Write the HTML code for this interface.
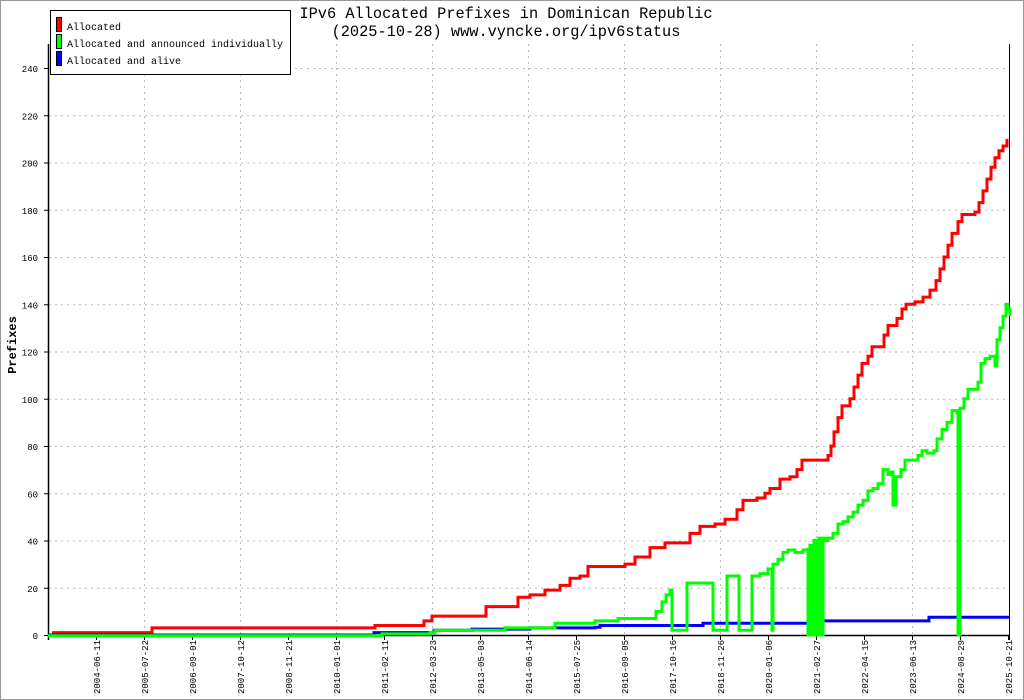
<!DOCTYPE html>
<html><head><meta charset="utf-8"><style>
html,body{margin:0;padding:0;background:#fff}
svg{display:block}
text{font-family:"Liberation Mono","DejaVu Sans Mono",monospace;fill:#000}
</style></head><body>
<svg id="s" width="1024" height="700" viewBox="0 0 1024 700" xmlns="http://www.w3.org/2000/svg">
<rect x="0.5" y="0.5" width="1023" height="699" fill="#fff" stroke="#999"/>
<g id="grid" stroke="#bbb" stroke-dasharray="2,4" stroke-width="1"></g>
<g id="axes"></g>
<g id="series" fill="none" stroke-width="3" stroke-linejoin="miter"></g>
<text x="506" y="18" font-size="15.3" text-anchor="middle">IPv6 Allocated Prefixes in Dominican Republic</text>
<text x="506" y="36" font-size="15.3" text-anchor="middle">(2025-10-28) www.vyncke.org/ipv6status</text>
<text transform="translate(16,345) rotate(-90)" font-size="12" font-weight="bold" text-anchor="middle">Prefixes</text>
<rect x="50.5" y="10.5" width="240" height="64" fill="#fff" stroke="#000"/>
<rect x="56.5" y="17.5" width="5" height="14" fill="#f00" stroke="#000"/>
<rect x="56.5" y="34.5" width="5" height="14" fill="#0f0" stroke="#000"/>
<rect x="56.5" y="51.5" width="5" height="14" fill="#00f" stroke="#000"/>
<text x="67" y="30" font-size="10">Allocated</text>
<text x="67" y="47" font-size="10">Allocated and announced individually</text>
<text x="67" y="64" font-size="10">Allocated and alive</text>
</svg>
<script>
var NS="http://www.w3.org/2000/svg";
function el(p,t,a,txt){var e=document.createElementNS(NS,t);for(var k in a)e.setAttribute(k,a[k]);if(txt!==undefined)e.textContent=txt;document.getElementById(p).appendChild(e);return e;}
function Y(v){return 635-v*2.3625;}
for(var v=20;v<=240;v+=20){el("grid","line",{x1:49,x2:1008,y1:Y(v)+.5,y2:Y(v)+.5});}
for(var v=0;v<=240;v+=20){el("axes","line",{x1:44,x2:48,y1:Y(v)+.5,y2:Y(v)+.5,stroke:"#000"});el("axes","text",{x:38,y:Y(v)+4,"font-size":"9","text-anchor":"end"},String(v));}
for(var x=144;x<=912;x+=96){el("grid","line",{x1:x+.5,x2:x+.5,y1:44,y2:634});}
var labs=["2004-06-11","2005-07-22","2006-09-01","2007-10-12","2008-11-21","2010-01-01","2011-02-11","2012-03-23","2013-05-03","2014-06-14","2015-07-25","2016-09-05","2017-10-16","2018-11-26","2020-01-06","2021-02-27","2022-04-15","2023-06-13","2024-08-29","2025-10-21"];
for(var i=0;i<labs.length;i++){var x=96+48*i;el("axes","line",{x1:x+.5,x2:x+.5,y1:635,y2:640,stroke:"#000"});el("axes","text",{transform:"translate("+(x+4)+",694) rotate(-90)","font-size":"9"},labs[i]);}
el("axes","line",{x1:48.5,x2:48.5,y1:44,y2:640,stroke:"#000","stroke-width":1.5});
el("axes","line",{x1:48,x2:1010,y1:635.5,y2:635.5,stroke:"#000","stroke-width":1.5});
el("axes","line",{x1:1009.5,x2:1009.5,y1:44,y2:640,stroke:"#000"});
function path(pts,col){var d="";for(var i=0;i<pts.length;i++){var x=pts[i][0],y=Y(pts[i][1]);if(i==0)d="M"+x+" "+y;else{d+=" H"+x+" V"+y;}}el("series","path",{d:d,stroke:col});}
var red=[[52,1],[150,1],[152,3],[373,3],[375,4],[420,4],[424,6],[432,8],[480,8],[486,12],[512,12],[518,16],[530,17],[545,19],[560,21],[570,24],[580,25],[588,29],[605,29],[625,30],[635,33],[650,37],[665,39],[680,39],[690,43],[700,46],[715,47],[725,49],[737,53],[743,57],[757,58],[765,60],[770,62],[780,66],[790,67],[797,70],[802,74],[820,74],[828,76],[831,80],[834,86],[838,92],[842,97],[850,100],[854,105],[858,110],[862,115],[868,118],[872,122],[880,122],[884,127],[888,131],[897,134],[902,138],[906,140],[915,141],[923,143],[930,146],[936,150],[940,155],[944,160],[948,165],[952,170],[958,175],[962,178],[975,179],[979,183],[983,188],[987,193],[991,198],[995,202],[999,205],[1003,207],[1007,210]];
path(red,"#f00");
var blue=[[48,0],[372,0],[374,1],[430,1],[434,2],[470,2],[472,2.5],[530,3],[595,3.3],[600,4],[700,4],[703,5],[808,5],[812,6],[926,6],[929,7.5],[1009,7.5]];
path(blue,"#00f");
var g=[[48,-0.3],[380,-0.3],[382,0.5],[430,1],[435,2],[500,2],[505,3],[550,3],[555,5],[590,5],[595,6],[615,6],[618,7],[650,7],[656,10],[662,14],[666,17],[670,19],[672,2],[685,2],[687,22],[712,22],[713,2],[725,2],[727,25],[738,25],[739,2],[750,2],[752,25],[760,26],[768,28],[771,28],[772,2],[773,30],[778,32],[783,35],[788,36],[795,35],[803,36],[808,37],[808,0],[810,0],[810,38],[812,0],[814,40],[817,0],[819,41],[821,0],[823,41],[826,40],[828,41],[833,43],[838,47],[843,48],[848,50],[853,52],[858,55],[863,57],[868,61],[873,62],[878,64],[883,70],[888,68],[891,69],[893,55],[896,67],[901,70],[905,74],[912,74],[918,76],[922,78],[927,77],[934,78],[937,83],[942,87],[947,90],[952,95],[957,94],[958,0],[960,96],[964,100],[968,104],[974,104],[978,107],[981,115],[985,117],[990,118],[995,114],[997,125],[1000,130],[1003,135],[1006,140],[1008,138],[1010,135]];
path(g,"#0f0");
</script>
</body></html>
